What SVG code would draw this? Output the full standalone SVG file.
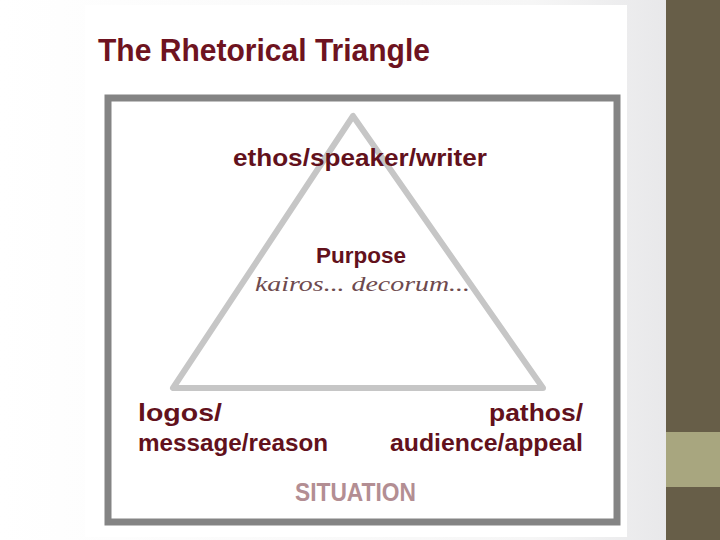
<svg xmlns="http://www.w3.org/2000/svg" width="720" height="540" viewBox="0 0 720 540">
<defs>
<linearGradient id="bg" x1="0" y1="0" x2="1" y2="0">
<stop offset="0" stop-color="#ffffff"/>
<stop offset="0.8" stop-color="#f6f6f6"/>
<stop offset="1" stop-color="#e8e8ea"/>
</linearGradient>
<style>
.lbl{font-family:"Liberation Sans","DejaVu Sans",sans-serif;font-weight:bold;fill:#62111c;}
.ttl{font-family:"Liberation Sans","DejaVu Sans",sans-serif;font-weight:bold;fill:#6e1320;font-size:32px;}
.sub{font-family:"Liberation Serif","DejaVu Serif",serif;font-style:italic;fill:#6e4a4e;font-size:22px;}
.sit{font-family:"Liberation Sans","DejaVu Sans",sans-serif;font-weight:bold;fill:#b38e93;font-size:26px;}
.tri{fill:none;stroke:#c6c6c6;stroke-width:6;stroke-linejoin:round;}
.frame{fill:none;stroke:#848484;stroke-width:7;}
</style>
</defs>
<rect x="0" y="0" width="666" height="540" fill="url(#bg)"/>
<rect x="85" y="5" width="542" height="532" fill="#ffffff"/>
<rect x="666" y="0" width="54" height="540" fill="#675e48"/>
<rect x="666" y="432" width="54" height="55" fill="#a8a67f"/>
<text class="ttl" x="98" y="61" textLength="332" lengthAdjust="spacingAndGlyphs">The Rhetorical Triangle</text>
<rect class="frame" x="108" y="98" width="509" height="424"/>
<g id="connectors">
<polygon class="tri" points="353,116 173,388 543,388"/>
</g>
<g id="ethos">
<text class="lbl" x="233" y="166" font-size="24" textLength="254" lengthAdjust="spacingAndGlyphs">ethos/speaker/writer</text>
</g>
<g id="purpose">
<text class="lbl" x="316" y="263" font-size="22" textLength="90" lengthAdjust="spacingAndGlyphs">Purpose</text>
<text class="sub" x="255" y="291" textLength="215" lengthAdjust="spacingAndGlyphs">kairos... decorum...</text>
</g>
<g id="logos">
<text class="lbl" x="138" y="421" font-size="24" textLength="84" lengthAdjust="spacingAndGlyphs">logos/</text>
<text class="lbl" x="138" y="451" font-size="24" textLength="190" lengthAdjust="spacingAndGlyphs">message/reason</text>
</g>
<g id="pathos">
<text class="lbl" x="489" y="421" font-size="24" textLength="94" lengthAdjust="spacingAndGlyphs">pathos/</text>
<text class="lbl" x="390" y="451" font-size="24" textLength="193" lengthAdjust="spacingAndGlyphs">audience/appeal</text>
</g>
<g id="situation">
<text class="sit" x="295" y="501" textLength="121" lengthAdjust="spacingAndGlyphs">SITUATION</text>
</g>
</svg>
